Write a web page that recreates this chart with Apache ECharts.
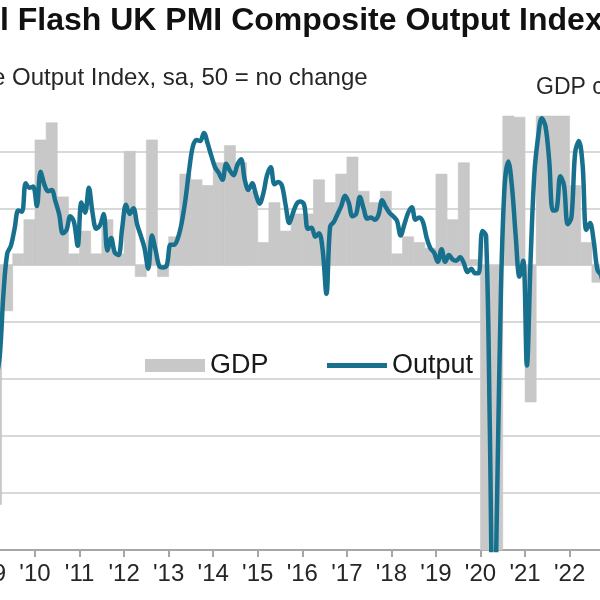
<!DOCTYPE html>
<html>
<head>
<meta charset="utf-8">
<script src="https://cdn.jsdelivr.net/npm/echarts@6/dist/echarts.min.js"></script>
<style>
html,body{margin:0;padding:0;background:#fff;}
#chart{width:600px;height:600px;}
</style>
</head>
<body>
<div id="chart"></div>
<script>
// ---------- DATA ----------
const titleText = 'l Flash UK PMI Composite Output Index';
const subtitleText = 'e Output Index, sa, 50 = no change';
const rightAxisTitle = 'GDP c';
const seriesNames = ['GDP', 'Output'];

// x-axis range (years); tick labels at each whole year
const xMinYear = 2009;
const xMaxYear = 2022.75;

// GDP, % q/q, quarterly from 2009 Q1
const gdpStartYear = 2009;
const gdpValues = [
  -2.1, -0.4, 0.1, 0.4,
  1.1, 1.25, 0.6, 0.1,
  0.3, 0.1, 0.4, 0.1,
  1.0, -0.1, 1.1, -0.1,
  0.25, 0.8, 0.75, 0.7,
  0.9, 1.05, 0.9, 0.65,
  0.2, 0.55, 0.3, 0.45,
  0.45, 0.75, 0.55, 0.8,
  0.95, 0.65, 0.55, 0.65,
  0.1, 0.25, 0.2, 0.15,
  0.8, 0.4, 0.9, 0.05,
  -2.5, -19.0, 16.0, 1.3,
  -1.2, 4.8, 1.7, 1.5,
  0.7, 0.2, -0.15
];

// PMI Composite Output Index, monthly from Jan 2009
const outputStartYear = 2009;
const outputValues = [
  38.5, 40.0, 42.0, 47.5, 51.0, 51.7, 53.2, 54.8, 54.7, 57.2, 56.8, 56.9,
  55.2, 58.2, 57.1, 56.5, 56.6, 55.6, 54.5, 52.8, 53.1, 54.3, 53.8, 51.7,
  55.5, 54.6, 56.8, 54.6, 53.2, 53.5, 54.5, 51.3, 52.4, 51.1, 50.9, 53.3,
  55.3, 54.5, 55.0, 53.6, 52.6, 51.5, 49.7, 52.6, 51.3, 49.9, 49.8, 50.0,
  51.8, 51.8, 52.4, 53.7, 55.7, 58.3, 60.4, 61.0, 60.9, 61.6, 60.7, 59.6,
  58.6, 58.1, 57.5, 58.9, 58.3, 57.9, 58.8, 59.3, 57.5, 56.6, 57.2, 56.2,
  55.4, 56.3, 57.9, 58.6, 57.1, 57.3, 57.0, 55.3, 53.7, 54.6, 55.4, 55.6,
  55.3, 53.2, 53.3, 52.5, 52.8, 51.3, 47.5, 53.4, 53.8, 54.5, 55.2, 56.1,
  55.5, 54.3, 54.5, 56.0, 55.0, 54.1, 54.2, 54.0, 54.4, 55.7, 55.1, 54.6,
  54.3, 53.9, 52.6, 53.6, 54.6, 55.1, 54.0, 54.2, 53.8, 52.4, 51.5, 51.1,
  50.3, 51.4, 50.3, 50.9, 50.5, 50.4, 50.7, 50.2, 49.4, 49.7, 49.3, 49.3,
  53.0, 52.6, 36.0, 13.8, 30.0, 47.7, 57.0, 59.1, 56.8, 52.5, 49.0, 50.4,
  41.2, 50.5, 58.0, 61.2, 62.9, 62.2, 59.2, 54.8, 54.9, 57.8, 57.0, 53.6,
  54.2, 59.9, 60.9, 58.8, 53.1, 53.7, 52.1, 49.6, 49.1, 47.2
];

// axis ranges (PMI 50 aligned with GDP 0; 10 PMI points = 1% GDP)
const pmiMin = 25, pmiMax = 63.1, pmiInterval = 5;

// ---------- BUILD ----------
const FONT = '"Liberation Sans", Arial, sans-serif';
const LINE_COLOR = '#17708e';
const BAR_COLOR = '#c8c8c8';
const PX_PER_YEAR = 44.55;
const gdpData = gdpValues.map((v, i) => {
  const y = gdpStartYear + Math.floor(i / 4);
  const q = i % 4;
  return [y + q / 4, y + (q + 1) / 4, v];
});
const outputData = outputValues.map((v, i) => [outputStartYear + (i + 0.5) / 12, v]);

const gridLeft = -9.55;
const gridWidth = (xMaxYear - xMinYear) * PX_PER_YEAR;
const gridRight = 600 - gridLeft - gridWidth;

const chart = echarts.init(document.getElementById('chart'), null, {renderer: 'canvas'});
chart.setOption({
  animation: false,
  backgroundColor: '#ffffff',
  textStyle: {fontFamily: FONT},
  title: [
    {text: titleText, left: 0, top: 5, padding: 0,
     textStyle: {fontSize: 32, fontWeight: 'bold', color: '#111111', fontFamily: FONT}},
    {text: subtitleText, left: -8, top: 66, padding: 0,
     textStyle: {fontSize: 24, fontWeight: 'normal', color: '#262626', fontFamily: FONT}},
    {text: rightAxisTitle, left: 536, top: 76, padding: 0,
     textStyle: {fontSize: 23, fontWeight: 'normal', color: '#262626', fontFamily: FONT}}
  ],
  legend: {
    left: 145, top: 352, padding: 0,
    itemWidth: 60, itemHeight: 13, itemGap: 56,
    textStyle: {fontSize: 27, color: '#1a1a1a', fontFamily: FONT},
    data: [
      {name: seriesNames[0], icon: 'rect'},
      {name: seriesNames[1],
       itemStyle: {color: 'rgba(0,0,0,0)', borderColor: 'rgba(0,0,0,0)', borderWidth: 0},
       lineStyle: {color: LINE_COLOR, width: 5}}
    ]
  },
  grid: {
    left: gridLeft, right: gridRight, top: 116, bottom: 50,
    outerBoundsMode: 'none', containLabel: false
  },
  xAxis: {
    type: 'value',
    min: xMinYear, max: xMaxYear, interval: 1,
    axisLine: {show: true, onZero: false, lineStyle: {color: '#a6a6a6', width: 2}},
    axisTick: {show: true, length: 7, lineStyle: {color: '#a6a6a6', width: 2}},
    axisLabel: {
      margin: 12, fontSize: 24, color: '#262626', fontFamily: FONT,
      showMaxLabel: false,
      formatter: v => Number.isInteger(v) ? "'" + String(v).slice(2) : ''
    },
    splitLine: {show: false}
  },
  yAxis: [
    {
      type: 'value', min: pmiMin, max: pmiMax, interval: pmiInterval,
      axisLine: {show: false}, axisTick: {show: false}, axisLabel: {show: false},
      splitLine: {show: true, showMaxLine: false, lineStyle: {color: '#d9d9d9', width: 2}}
    },
    {
      type: 'value', min: (pmiMin - 50) / 10, max: (pmiMax - 50) / 10,
      show: false, splitLine: {show: false}
    }
  ],
  series: [
    {
      name: seriesNames[0],
      type: 'custom',
      xAxisIndex: 0, yAxisIndex: 1,
      itemStyle: {color: BAR_COLOR},
      encode: {x: [0, 1], y: 2},
      data: gdpData,
      z: 1,
      renderItem: function (params, api) {
        const s = api.coord([api.value(0), api.value(2)]);
        const e = api.coord([api.value(1), 0]);
        const rect = {
          x: Math.min(s[0], e[0]), y: Math.min(s[1], e[1]),
          width: Math.abs(e[0] - s[0]), height: Math.abs(e[1] - s[1])
        };
        const cs = params.coordSys;
        const clipped = echarts.graphic.clipRectByRect(rect, {x: cs.x, y: cs.y, width: cs.width, height: cs.height});
        if (!clipped) return null;
        return {type: 'rect', shape: clipped,
                style: {fill: BAR_COLOR, stroke: BAR_COLOR, lineWidth: 0.6}};
      }
    },
    {
      name: seriesNames[1],
      type: 'line',
      xAxisIndex: 0, yAxisIndex: 0,
      data: outputData,
      smooth: 0.35,
      symbol: 'none',
      lineStyle: {color: LINE_COLOR, width: 4.5},
      itemStyle: {color: LINE_COLOR},
      z: 3
    }
  ]
});
</script>
</body>
</html>
